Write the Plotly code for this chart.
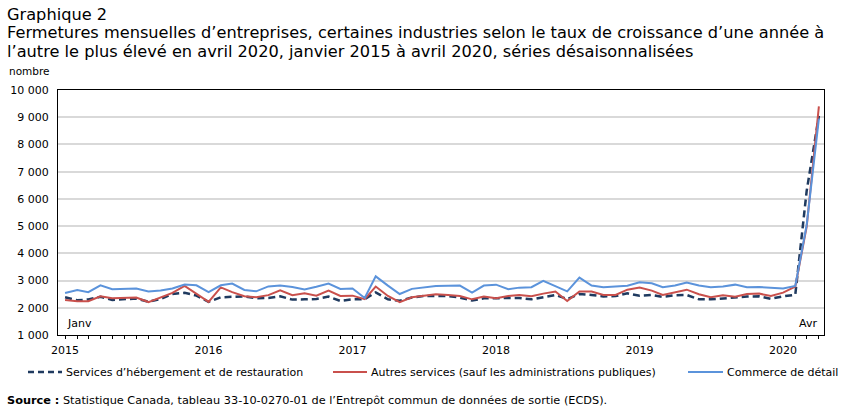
import plotly.graph_objects as go
import pandas as pd

months = pd.date_range("2015-01-01", "2020-04-01", freq="MS")

hebergement = [2385, 2275, 2305, 2405, 2290, 2305, 2340, 2225, 2320, 2510, 2550, 2450,
               2220, 2385, 2415, 2420, 2350, 2360, 2420, 2300, 2310, 2320, 2410, 2250,
               2310, 2320, 2565, 2310, 2260, 2380, 2430, 2440, 2430, 2375, 2265, 2350,
               2350, 2340, 2360, 2310, 2385, 2470, 2320, 2505, 2470, 2415, 2430, 2530,
               2440, 2470, 2400, 2460, 2470, 2310, 2310, 2345, 2385, 2410, 2420, 2330,
               2420, 2480, 6300, 9050]
autres = [2285, 2240, 2240, 2420, 2350, 2375, 2375, 2210, 2385, 2545, 2800, 2520,
          2215, 2750, 2575, 2425, 2385, 2465, 2640, 2465, 2535, 2445, 2630, 2435,
          2445, 2315, 2780, 2435, 2205, 2385, 2446, 2495, 2470, 2435, 2310, 2410,
          2350, 2435, 2470, 2420, 2520, 2595, 2250, 2595, 2595, 2470, 2470, 2665,
          2745, 2630, 2470, 2570, 2665, 2495, 2385, 2460, 2410, 2505, 2520, 2430,
          2555, 2780, 4980, 9400]
commerce = [2540, 2650, 2575, 2825, 2685, 2685, 2710, 2600, 2635, 2710, 2855, 2825,
            2575, 2825, 2890, 2655, 2605, 2785, 2820, 2760, 2675, 2775, 2890, 2690,
            2710, 2360, 3155, 2815, 2505, 2695, 2760, 2800, 2805, 2815, 2560, 2815,
            2850, 2680, 2740, 2755, 2990, 2805, 2605, 3110, 2815, 2755, 2780, 2810,
            2935, 2900, 2755, 2815, 2925, 2815, 2755, 2780, 2850, 2755, 2765, 2740,
            2705, 2800, 5050, 8950]

series_names = ["Services d\u2019hébergement et de restauration",
                "Autres services (sauf les administrations publiques)",
                "Commerce de détail"]
series_colors = ["#1F3A5F", "#C9504C", "#5B93DB"]
series_dash = ["7px,4px", "solid", "solid"]
series_width = [2.5, 2, 2]
year_ticks = ["2015-01-01", "2016-01-01", "2017-01-01", "2018-01-01", "2019-01-01", "2020-01-01"]
year_labels = ["2015", "2016", "2017", "2018", "2019", "2020"]
y_ticks = [1000, 2000, 3000, 4000, 5000, 6000, 7000, 8000, 9000, 10000]
y_labels = ["1 000", "2 000", "3 000", "4 000", "5 000", "6 000", "7 000", "8 000", "9 000", "10 000"]

W, H = 852, 417
L, R, T, B = 58, 28, 90, 82
pw, ph = W - L - R, H - T - B

def px(x):
    return (x - L) / pw

def py(y):
    return (H - B - y) / ph

fig = go.Figure()
for vals, name, col, dash, wd in zip([hebergement, autres, commerce], series_names,
                                     series_colors, series_dash, series_width):
    fig.add_trace(go.Scatter(x=months, y=vals, mode="lines", name=name, showlegend=False,
                             line=dict(color=col, width=wd, dash=dash)))

font_main = "DejaVu Sans"
title_size = 16.2
anns = [
    dict(text="Graphique 2", x=px(5), y=py(14), font=dict(size=title_size)),
    dict(text="Fermetures mensuelles d\u2019entreprises, certaines industries selon le taux de croissance d\u2019une année à",
         x=px(5), y=py(32.5), font=dict(size=title_size)),
    dict(text="l\u2019autre le plus élevé en avril 2020, janvier 2015 à avril 2020, séries désaisonnalisées",
         x=px(5), y=py(51.5), font=dict(size=title_size)),
    dict(text="nombre", x=px(7), y=py(71), font=dict(size=10.5)),
    dict(text="<b>Source :</b> Statistique Canada, tableau 33-10-0270-01 de l\u2019Entrepôt commun de données de sortie (ECDS).",
         x=px(5), y=py(400), font=dict(size=11.3)),
]
annotations = []
for a in anns:
    annotations.append(dict(xref="paper", yref="paper", xanchor="left", yanchor="middle",
                            showarrow=False, **a))
annotations.append(dict(xref="x", yref="y", x=months[0], y=1434, text="Janv", xanchor="left",
                        yanchor="middle", showarrow=False, font=dict(size=11)))
annotations.append(dict(xref="x", yref="y", x=months[-1], y=1434, text="Avr", xanchor="right",
                        yanchor="middle", showarrow=False, font=dict(size=11)))

# manual legend
legend_x = [(28, 62), (333, 367), (688, 723)]
shapes = []
for (x0, x1), name, col, dash, wd in zip(legend_x, series_names, series_colors, series_dash, series_width):
    shapes.append(dict(type="line", xref="paper", yref="paper", x0=px(x0), x1=px(x1),
                       y0=py(372), y1=py(372), line=dict(color=col, width=wd,
                       dash="6px,4px" if dash != "solid" else "solid")))
    annotations.append(dict(xref="paper", yref="paper", x=px(x1 + 2), y=py(372), text=name,
                            xanchor="left", yanchor="middle", showarrow=False,
                            font=dict(size=11)))

fig.update_layout(
    width=W, height=H,
    margin=dict(l=L, r=R, t=T, b=B, autoexpand=False),
    paper_bgcolor="white", plot_bgcolor="white",
    font=dict(family=font_main, size=11, color="black"),
    annotations=annotations,
    shapes=shapes,
    showlegend=False,
    xaxis=dict(type="date", range=["2014-12-14", "2020-04-14"],
               tickvals=year_ticks, ticktext=year_labels, ticks="outside", ticklen=3,
               tickcolor="black", showgrid=False, showline=True, linecolor="black",
               linewidth=1, mirror=True, ticklabelstandoff=2,
               minor=dict(dtick="M1", ticks="outside", ticklen=3, tickcolor="black", showgrid=False)),
    yaxis=dict(range=[1000, 10000], tickvals=y_ticks, ticktext=y_labels, showgrid=True,
               gridcolor="#D9D9D9", gridwidth=1.5, showline=True, linecolor="black", linewidth=1,
               mirror=True, ticks="", ticklabelstandoff=6, zeroline=False),
)

fig.write_html("out.html")
